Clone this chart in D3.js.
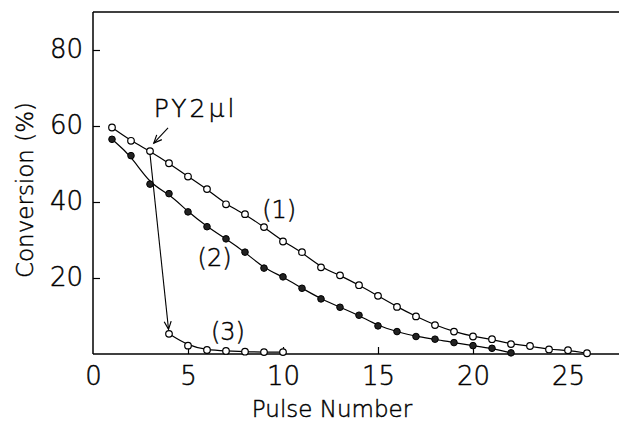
<!DOCTYPE html>
<html><head><meta charset="utf-8">
<script src="https://cdn.jsdelivr.net/npm/d3@7/dist/d3.min.js"></script>
<style>html,body{margin:0;padding:0;background:#fff;} svg{display:block;} text{stroke:#000;stroke-width:0.45px;paint-order:stroke;}</style>
</head><body>
<svg id="c" width="619" height="423"></svg>
<script>
// ---- data ----
const pulses1 = [1,2,3,4,5,6,7,8,9,10,11,12,13,14,15,16,17,18,19,20,21,22,23,24,25,26];
const conv1   = [59.6,56.1,53.4,50.2,46.7,43.4,39.4,36.8,33.4,29.6,26.8,22.8,20.7,18.1,15.3,12.4,9.9,7.6,5.9,4.6,3.9,2.6,2.1,1.2,1.0,0.2];
const pulses2 = [1,2,3,4,5,6,7,8,9,10,11,12,13,14,15,16,17,18,19,20,21,22];
const conv2   = [56.5,52.2,44.7,42.2,37.4,33.5,30.3,26.8,22.6,20.3,17.3,14.5,12.3,10.2,7.4,5.9,4.6,3.9,3.0,2.2,1.5,0.3];
const pulses3 = [4,5,6,7,8,9,10];
const conv3   = [5.3,2.2,1.05,0.8,0.6,0.5,0.5];
const xTicks = [0,5,10,15,20,25];
const yTicks = [20,40,60,80];
const seriesLabels = [
  {text:"(1)", x:9.8, y:37.9},
  {text:"(2)", x:6.4, y:25.3},
  {text:"(3)", x:7.1, y:5.8}
];
const injection = {text:"PY2\u03BCl", x:5.4, y:64.7, arrowFrom:[3.95,59.5], arrowTo:[3.2,55.5]};

// ---- layout ----
const svg = d3.select("#c");
const mLeft = 93, mTop = 12, mBottom = 354, mRight = 619;
const x = d3.scaleLinear().domain([0, (mRight-mLeft)/19]).range([mLeft, mRight]);
const y = d3.scaleLinear().domain([0, 90]).range([mBottom, mTop]);
const FONT = "'DejaVu Sans', sans-serif";
const FW = 200, FC = "#000";

const defs = svg.append("defs");
defs.append("marker").attr("id","arr").attr("viewBox","-10 -6 12 12")
  .attr("markerUnits","userSpaceOnUse").attr("markerWidth",12).attr("markerHeight",12)
  .attr("refX",0).attr("refY",0).attr("orient","auto")
  .append("path").attr("d","M-8,-3.5L0,0L-8,3.5").attr("fill","none").attr("stroke","#000").attr("stroke-width",1.2);

// frame
const frame = svg.append("g").attr("stroke","#000").attr("stroke-width",1.5).attr("fill","none");
frame.append("line").attr("x1",x(0)).attr("x2",x(0)).attr("y1",y(90)).attr("y2",y(0));
frame.append("line").attr("x1",x(0)).attr("x2",mRight).attr("y1",y(0)).attr("y2",y(0));
frame.append("line").attr("x1",x(0)).attr("x2",mRight).attr("y1",y(90)).attr("y2",y(90));

// axes
const xa = svg.append("g").attr("transform",`translate(0,${y(0)})`)
  .call(d3.axisBottom(x).tickValues(xTicks).tickSize(-7).tickPadding(13).tickFormat(d3.format("d")));
xa.select(".domain").remove();
xa.selectAll(".tick line").attr("stroke","#000").attr("stroke-width",1.2).filter(d=>d===0).remove();
xa.selectAll("text").attr("font-family",FONT).attr("font-weight",FW).attr("font-size",26).attr("fill",FC);

const ya = svg.append("g").attr("transform",`translate(${x(0)},0)`)
  .call(d3.axisLeft(y).tickValues(yTicks).tickSize(-7).tickPadding(10).tickFormat(d3.format("d")));
ya.select(".domain").remove();
ya.selectAll(".tick line").attr("stroke","#000").attr("stroke-width",1.2);
ya.selectAll("text").attr("font-family",FONT).attr("font-weight",FW).attr("font-size",26).attr("dy","0.27em").attr("fill",FC);

svg.append("text").attr("x",332).attr("y",417).attr("text-anchor","middle")
  .attr("font-family",FONT).attr("font-weight",FW).attr("font-size",23).attr("fill",FC).text("Pulse Number");
svg.append("text").attr("transform","translate(33,190) rotate(-90)").attr("text-anchor","middle")
  .attr("font-family",FONT).attr("font-weight",FW).attr("font-size",23).attr("fill",FC).text("Conversion (%)");

// lines
const line = d3.line().x(d=>x(d[0])).y(d=>y(d[1])).curve(d3.curveBasis);
const s1 = pulses1.map((p,i)=>[p,conv1[i]]);
const s2 = pulses2.map((p,i)=>[p,conv2[i]]);
const s3 = pulses3.map((p,i)=>[p,conv3[i]]);
const lg = svg.append("g").attr("fill","none").attr("stroke","#000").attr("stroke-width",1.2);
[s1,s2,s3].forEach(s=>lg.append("path").attr("d",line(s)));

// injection drop arrow: from series1 pulse 3 down to series3 first point
{
  const a = s1[2], b = s3[0];
  const x1 = x(a[0]), y1 = y(a[1]) + 3, x2 = x(b[0]), y2 = y(b[1]);
  const dx = x2-x1, dy = y2-y1, L = Math.hypot(dx,dy);
  svg.append("line").attr("x1",x1).attr("y1",y1).attr("x2",x2-dx/L*4.5).attr("y2",y2-dy/L*4.5)
    .attr("stroke","#000").attr("stroke-width",1.1).attr("marker-end","url(#arr)");
}

// markers
const mg = svg.append("g");
mg.append("g").selectAll("circle").data(s1).join("circle").attr("cx",d=>x(d[0])).attr("cy",d=>y(d[1])).attr("r",3.3)
  .attr("fill","#fff").attr("stroke","#000").attr("stroke-width",1.2);
mg.append("g").selectAll("circle").data(s2).join("circle").attr("cx",d=>x(d[0])).attr("cy",d=>y(d[1])).attr("r",3.3)
  .attr("fill","#222").attr("stroke","#000").attr("stroke-width",1);
mg.append("g").selectAll("circle").data(s3).join("circle").attr("cx",d=>x(d[0])).attr("cy",d=>y(d[1])).attr("r",3.3)
  .attr("fill","#fff").attr("stroke","#000").attr("stroke-width",1.2);

// labels
svg.append("g").selectAll("text").data(seriesLabels).join("text")
  .attr("x",d=>x(d.x)).attr("y",d=>y(d.y)).attr("text-anchor","middle").attr("dominant-baseline","central")
  .attr("font-family",FONT).attr("font-weight",FW).attr("font-size",24).attr("fill",FC).text(d=>d.text);

svg.append("text").attr("x",x(injection.x)).attr("y",y(injection.y)).attr("text-anchor","middle")
  .attr("dominant-baseline","central").attr("letter-spacing","3px")
  .attr("font-family",FONT).attr("font-weight",FW).attr("font-size",25).attr("fill",FC).text(injection.text);
svg.append("line").attr("x1",x(injection.arrowFrom[0])).attr("y1",y(injection.arrowFrom[1]))
  .attr("x2",x(injection.arrowTo[0])).attr("y2",y(injection.arrowTo[1]))
  .attr("stroke","#000").attr("stroke-width",1.1).attr("marker-end","url(#arr)");
</script>
</body></html>
